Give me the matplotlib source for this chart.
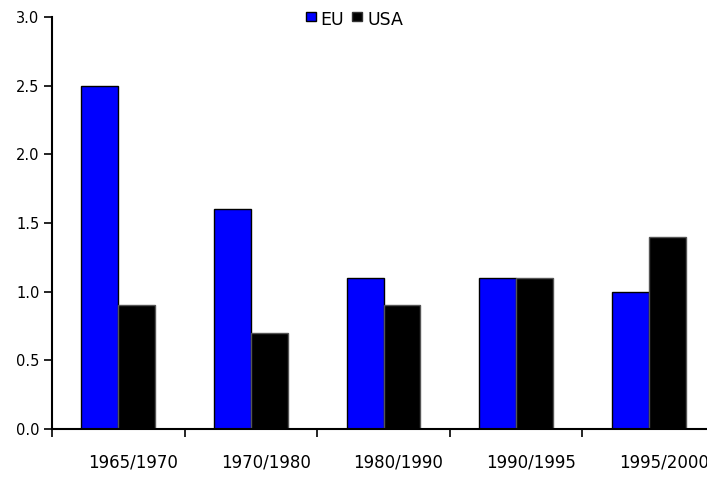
import matplotlib
matplotlib.use("Agg")
import matplotlib.pyplot as plt
import matplotlib.transforms as mtransforms
from matplotlib.patches import Rectangle
import numpy as np

categories = ["1965/1970", "1970/1980", "1980/1990", "1990/1995", "1995/2000"]
eu_values = [2.5, 1.6, 1.1, 1.1, 1.0]
usa_values = [0.9, 0.7, 0.9, 1.1, 1.4]
y_ticks = [0.0, 0.5, 1.0, 1.5, 2.0, 2.5, 3.0]
y_tick_labels = ["0.0", "0.5", "1.0", "1.5", "2.0", "2.5", "3.0"]
series_names = ["EU", "USA"]
series_colors = ["#0000ff", "black"]

plt.rcParams['font.family'] = ['DejaVu Sans']

fig = plt.figure(figsize=(7.07, 4.78), dpi=100)
W, H = 707, 478
ax = fig.add_axes([52 / W, 1 - 429 / H, (715 - 52) / W, (429 - 17) / H])

x = np.arange(len(categories))
bw = 0.279
ax.bar(x - bw / 2, eu_values, bw, color=series_colors[0], edgecolor="black", linewidth=1.0)
ax.bar(x + bw / 2, usa_values, bw, color=series_colors[1], edgecolor="#555555", linewidth=1.0)

ax.set_xlim(-0.5, len(categories) - 0.5)
ax.set_ylim(0, 3.0)
ax.set_yticks(y_ticks)
ax.set_yticklabels(y_tick_labels, fontsize=10.5)
ax.set_xticks(x)
ax.set_xticklabels(categories, fontsize=12)
ax.tick_params(axis='x', which='major', length=0, pad=17.5)
ax.set_xticks(np.arange(len(categories)) - 0.5, minor=True)
ax.tick_params(axis='x', which='minor', length=6, width=1.2, direction='out')
ax.tick_params(axis='y', length=6, width=1.2, direction='out', pad=3)
shift = mtransforms.ScaledTranslation(15 / 100, 0, fig.dpi_scale_trans)
for lbl in ax.get_xticklabels():
    lbl.set_transform(lbl.get_transform() + shift)
for side in ["top", "right"]:
    ax.spines[side].set_visible(False)
ax.spines["left"].set_linewidth(1.5)
ax.spines["bottom"].set_linewidth(1.5)

# legend drawn manually (top centre)
legend_items = [(306, 320, series_names[0], series_colors[0], "black"),
                (352, 367, series_names[1], series_colors[1], "#333333")]
for px, tx, name, fc, ec in legend_items:
    fig.patches.append(Rectangle((px / W, 1 - 21 / H), 10 / W, 9 / H, transform=fig.transFigure,
                                 facecolor=fc, edgecolor=ec, linewidth=1.0))
    fig.text(tx / W, 1 - 20 / H, name, fontsize=12.5, ha="left", va="center")

fig.savefig("out.png", dpi=100)
